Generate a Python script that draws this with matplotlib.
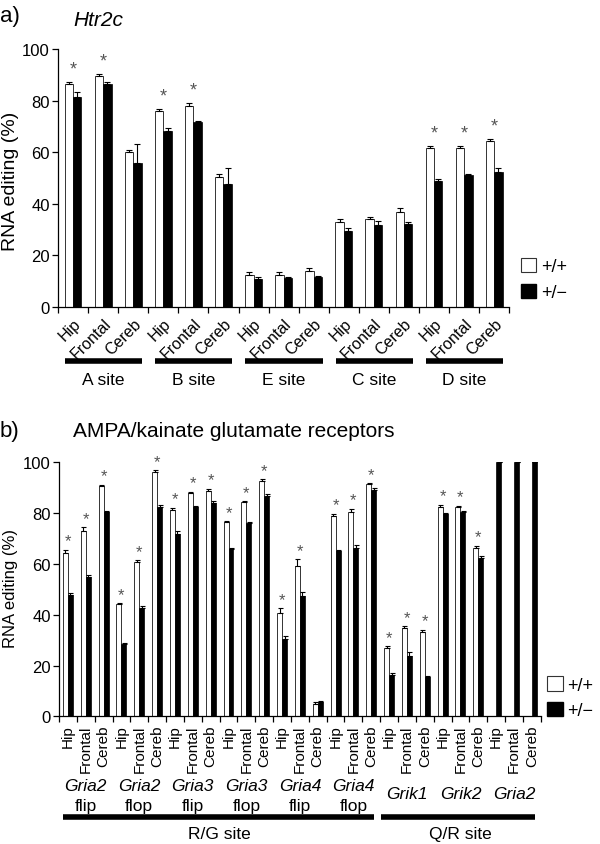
import numpy as np
import matplotlib
matplotlib.use("Agg")
import matplotlib.pyplot as plt
import matplotlib.transforms as mtransforms
from matplotlib.patches import Patch

plt.rcParams['font.family'] = ['Liberation Sans', 'DejaVu Sans']

# ---- data ----
tissues = ['Hip', 'Frontal', 'Cereb']

# panel a: Htr2c editing sites
htr_sites = ['A site', 'B site', 'E site', 'C site', 'D site']
htr_wt = [86.5, 89.5, 60.0, 75.8, 78.0, 50.5, 12.5, 12.5, 14.0,
          33.0, 34.0, 37.0, 61.5, 61.5, 64.2]
htr_wt_err = [0.9, 1.0, 1.0, 0.9, 1.0, 1.0, 1.0, 1.0, 1.2,
              1.0, 1.0, 1.2, 1.0, 1.0, 1.0]
htr_het = [81.5, 86.5, 56.0, 68.3, 71.7, 47.5, 10.8, 11.3, 11.5,
           29.5, 31.7, 32.0, 48.8, 51.0, 52.5]
htr_het_err = [2.0, 0.7, 7.2, 1.0, 0.3, 6.3, 0.7, 0.5, 0.4,
               1.2, 1.7, 1.0, 1.0, 0.6, 1.5]
htr_sig = [True, True, False, True, True, False, False, False, False,
           False, False, False, True, True, True]

# panel b: AMPA/kainate receptors
glu_genes = ['Gria2', 'Gria2', 'Gria3', 'Gria3', 'Gria4', 'Gria4',
             'Grik1', 'Grik2', 'Gria2']
glu_iso = ['flip', 'flop', 'flip', 'flop', 'flip', 'flop', '', '', '']
glu_sites = ['R/G site', 'Q/R site']
glu_site_ngenes = [6, 3]
glu_wt = [64.2, 73.0, 90.4, 44.0, 60.8, 95.9, 81.2, 87.7, 88.8,
          76.3, 84.2, 92.7, 40.6, 59.0, 5.0, 78.8, 80.3, 91.2,
          26.8, 34.8, 33.0, 82.5, 82.5, 66.3, np.nan, np.nan, np.nan]
glu_wt_err = [1.3, 1.3, 0.6, 0.5, 0.5, 0.8, 0.8, 0.6, 0.8,
              0.4, 0.3, 0.6, 2.0, 2.8, 0.6, 0.8, 1.3, 0.4,
              0.7, 0.7, 1.0, 0.7, 0.3, 0.8, np.nan, np.nan, np.nan]
glu_het = [47.8, 54.8, 80.2, 28.4, 42.8, 82.3, 71.9, 82.2, 83.8,
           65.8, 76.0, 86.8, 30.5, 47.3, 5.6, 65.0, 66.3, 89.2,
           16.3, 23.8, 15.5, 79.5, 80.2, 62.3, 100.0, 100.0, 100.0]
glu_het_err = [0.8, 0.8, 0.7, 0.3, 0.6, 0.8, 0.8, 0.6, 0.8,
               0.5, 0.6, 0.8, 1.2, 1.8, 0.3, 0.5, 1.0, 0.6,
               0.8, 1.5, 0.4, 0.6, 0.5, 0.8, 0.0, 0.0, 0.0]
glu_sig = [True] * 14 + [False] + [True] * 9 + [False] * 3


def draw_pairs(ax, wt, wt_err, het, het_err, sig, width, cap, star_off, star_size):
    wt = np.asarray(wt, float)
    het = np.asarray(het, float)
    wt_err = np.asarray(wt_err, float)
    het_err = np.asarray(het_err, float)
    x = np.arange(len(wt))
    ok = np.isfinite(wt)

    ax.bar(x[ok] - width / 2, wt[ok], width, color='white',
           edgecolor='#333333', linewidth=0.7, zorder=2)
    ax.bar(x + width / 2, het, width, color='black', edgecolor='black',
           linewidth=0.5, zorder=2)
    ax.errorbar(x[ok] - width / 2, wt[ok], yerr=[np.zeros(ok.sum()), wt_err[ok]],
                fmt='none', ecolor='black', elinewidth=0.8, capsize=cap,
                capthick=0.8, zorder=3)
    ax.errorbar(x + width / 2, het, yerr=[np.zeros(len(het)), het_err],
                fmt='none', ecolor='black', elinewidth=0.8, capsize=cap,
                capthick=0.8, zorder=3)

    for i, s in enumerate(sig):
        if s:
            top = np.nanmax([wt[i] + wt_err[i], het[i] + het_err[i]])
            ax.text(i, top + star_off, '*', ha='center', va='center',
                    fontsize=star_size, color='#555555')


def style_axes(ax, n, rot, label_size):
    ax.set_xlim(-0.5, n - 0.5)
    ax.set_ylim(0, 100)
    ax.set_yticks(np.arange(0, 101, 20))
    ax.spines['top'].set_visible(False)
    ax.spines['right'].set_visible(False)
    ax.spines['left'].set_linewidth(0.9)
    ax.spines['bottom'].set_linewidth(0.9)
    ax.tick_params(axis='y', direction='out', length=4, width=0.9,
                   labelsize=12, pad=2)
    ax.set_xticks(np.arange(n))
    ax.set_xticks(np.arange(n + 1) - 0.5, minor=True)
    ax.tick_params(axis='x', which='major', length=0, pad=6)
    ax.tick_params(axis='x', which='minor', direction='out', length=4, width=0.9)
    labels = tissues * (n // 3)
    if rot == 45:
        ax.set_xticklabels(labels, rotation=45, ha='right',
                           rotation_mode='anchor', fontsize=label_size)
    else:
        ax.set_xticklabels(labels, rotation=90, ha='center', va='top',
                           fontsize=label_size)


fig = plt.figure(figsize=(6, 8.45), dpi=100)

handles = [Patch(facecolor='white', edgecolor='#333333', lw=0.8),
           Patch(facecolor='black', edgecolor='black')]

# ---- panel a ----
ax1 = fig.add_axes([0.0967, 0.6355, 0.752, 0.3053])
draw_pairs(ax1, htr_wt, htr_wt_err, htr_het, htr_het_err, htr_sig,
           width=0.28, cap=2.5, star_off=5, star_size=13)
style_axes(ax1, len(htr_wt), 45, 11.5)
fig.text(0.018, 1 - 181 / 845, 'RNA editing (%)', rotation=90,
         ha='center', va='center', fontsize=14)

trans1 = mtransforms.blended_transform_factory(ax1.transData, ax1.transAxes)
for g, name in enumerate(htr_sites):
    c = 3 * g + 1
    ax1.plot([c - 1.27, c + 1.3], [-0.21, -0.21], color='black', lw=4,
             solid_capstyle='butt', transform=trans1, clip_on=False)
    ax1.text(c, -0.282, name, ha='center', va='center', fontsize=12.5,
             transform=trans1)

fig.text(0.0, 0.981, 'a)', fontsize=16, va='center', ha='left')
fig.text(0.122, 0.976, 'Htr2c', fontsize=15, style='italic', va='center')

fig.legend(handles, ['+/+', '+/\u2212'], loc='center left',
           bbox_to_anchor=(0.868, 0.668), frameon=False, fontsize=13,
           handlelength=0.85, handleheight=0.85, handletextpad=0.25,
           labelspacing=0.45, borderaxespad=0, borderpad=0)

# ---- panel b ----
ax2 = fig.add_axes([0.0983, 0.151, 0.803, 0.301])
draw_pairs(ax2, glu_wt, glu_wt_err, glu_het, glu_het_err, glu_sig,
           width=0.28, cap=1.8, star_off=3.5, star_size=12)
style_axes(ax2, len(glu_wt), 90, 11)
fig.text(0.018, 1 - 589 / 845, 'RNA editing (%)', rotation=90,
         ha='center', va='center', fontsize=12)

trans2 = mtransforms.blended_transform_factory(ax2.transData, ax2.transAxes)
for g, (gene, iso) in enumerate(zip(glu_genes, glu_iso)):
    c = 3 * g + 1
    if iso:
        ax2.text(c, -0.27, gene, ha='center', va='center', fontsize=12.5,
                 style='italic', transform=trans2)
        ax2.text(c, -0.349, iso, ha='center', va='center', fontsize=12.5,
                 transform=trans2)
    else:
        ax2.text(c, -0.302, gene, ha='center', va='center', fontsize=12.5,
                 style='italic', transform=trans2)

start = 0
for name, ng in zip(glu_sites, glu_site_ngenes):
    first = 3 * start
    last = 3 * (start + ng) - 1
    ax2.plot([first - 0.3 if start == 0 else first - 0.45, last + 0.15],
             [-0.396, -0.396], color='black', lw=4, solid_capstyle='butt',
             transform=trans2, clip_on=False)
    ax2.text((first + last) / 2, -0.46, name, ha='center', va='center',
             fontsize=12.5, transform=trans2)
    start += ng

fig.text(0.0, 0.489, 'b)', fontsize=16, va='center', ha='left')
fig.text(0.122, 0.489, 'AMPA/kainate glutamate receptors', fontsize=15,
         va='center')

fig.legend(handles, ['+/+', '+/\u2212'], loc='center left',
           bbox_to_anchor=(0.912, 0.173), frameon=False, fontsize=13,
           handlelength=0.85, handleheight=0.85, handletextpad=0.25,
           labelspacing=0.45, borderaxespad=0, borderpad=0)

fig.savefig('out.png', dpi=100)
